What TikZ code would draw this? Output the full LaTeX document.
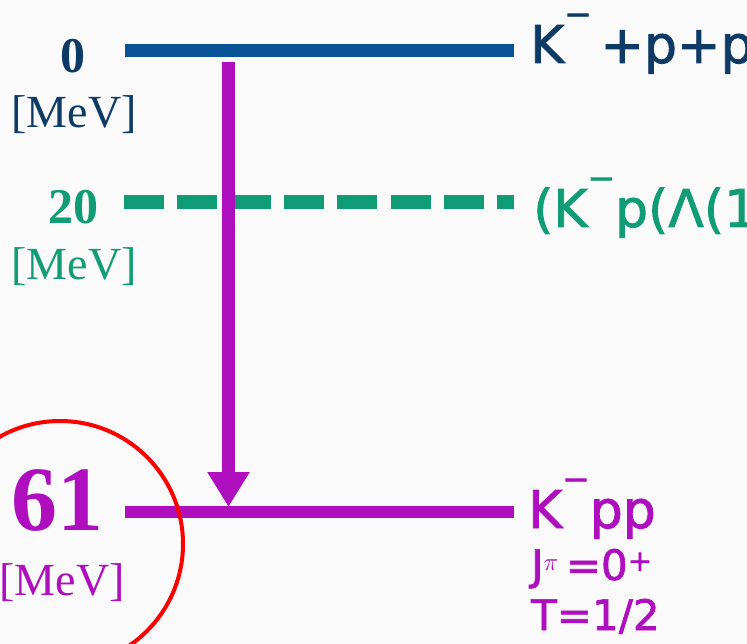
\documentclass[tikz,border=0pt]{standalone}
\usepackage{fontspec}
\setmainfont{Liberation Serif}
\newfontfamily\statefont[FakeBold=1.6]{DejaVu Sans}
\usetikzlibrary{arrows.meta}

\definecolor{levelblue}{RGB}{10,82,150}
\definecolor{textblue}{RGB}{14,58,102}
\definecolor{levelgreen}{RGB}{16,156,116}
\definecolor{levelpurple}{RGB}{174,14,190}
\definecolor{circlered}{RGB}{255,0,0}

\newcommand\kbar{\raisebox{.42em}{⁻}}

\tikzset{
  mev/.style={inner sep=0pt, anchor=base, font=\fontsize{46}{46}\selectfont},
  energy/.style={inner sep=0pt, anchor=base, font=\bfseries\fontsize{50}{50}\selectfont},
  state/.style={inner sep=0pt, anchor=base west, font=\statefont\fontsize{52}{52}\selectfont},
  quantum/.style={inner sep=0pt, anchor=base west, font=\statefont\fontsize{42}{42}\selectfont},
}

\begin{document}
\begin{tikzpicture}[x=1pt,y=-1pt]
    \useasboundingbox (0,0) rectangle (747,644);
    \clip (0,0) rectangle (747,644);
    \fill[black!2] (0,0) rectangle (747,644);

    % level ends
    \coordinate (top0l) at (125,50.5);
    \coordinate (top0r) at (514,50.5);
    \coordinate (mid20l) at (124,202);
    \coordinate (mid20r) at (514,202);
    \coordinate (low61l) at (125,512);
    \coordinate (low61r) at (514,512);

    \draw[levelblue, line width=13pt] (top0l) -- (top0r);
    \draw[levelgreen, line width=14pt, dash pattern=on 40pt off 13.3pt] (mid20l) -- (mid20r);
    \draw[levelpurple, line width=12pt] (low61l) -- (low61r);

    % transition
    \coordinate (arrtop) at (228.5,62);
    \coordinate (arrtip) at (228.5,507);
    \draw[levelpurple, line width=13pt, -{Triangle[width=40pt,length=35pt]}] (arrtop) -- (arrtip);

    % energies
    \node[energy, textblue] (zero) at (73,73) {0};
    \node[mev, textblue] (zerounit) at (74,128) {[MeV]};
    \node[energy, levelgreen] (twenty) at (73,224) {20};
    \node[mev, levelgreen] (twentyunit) at (74,280) {[MeV]};
    \node[energy, levelpurple, font=\bfseries\fontsize{92}{92}\selectfont] (sixtyone) at (57,530) {61};
    \node[mev, levelpurple] (sixtyoneunit) at (62,595) {[MeV]};

    % states
    \node[state, textblue] (threshold) at (530,63) {K\kbar\,+p+p};
    \node[state, levelgreen] (lambdastar) at (533,227) {(K\kbar p(Λ(1};
    \node[state, levelpurple] (kpp) at (528,528) {K\kbar pp};
    \node[quantum, levelpurple] (spin) at (531,580) {J\textsuperscript{$\pi$}\,=0\textsuperscript{+}};
    \node[quantum, levelpurple] (isospin) at (531,630) {T=1/2};

    \draw[circlered, line width=4pt] (60,544) circle[radius=123];
\end{tikzpicture}
\end{document}
